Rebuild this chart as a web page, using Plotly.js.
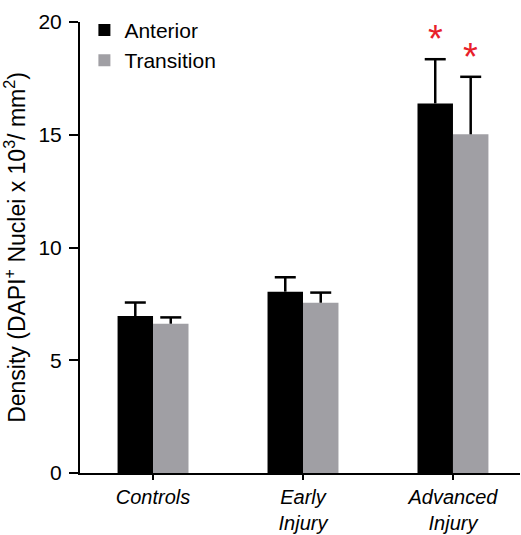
<!DOCTYPE html>
<html>
<head>
<meta charset="utf-8">
<script src="https://cdn.plot.ly/plotly-3.0.1.min.js"></script>
<style>html,body{margin:0;padding:0;background:#fff;}#chart{width:521px;height:535px;}</style>
</head>
<body>
<div id="chart"></div>
<script>
const categories = ['Controls', 'Early<br>Injury', 'Advanced<br>Injury'];
const anterior = [6.96, 8.04, 16.39];
const anteriorErr = [0.6, 0.64, 1.96];
const transition = [6.62, 7.55, 15.02];
const transitionErr = [0.28, 0.45, 2.55];
const anteriorSig = ['', '', '*'];
const transitionSig = ['', '', '*'];
const yTicks = [0, 5, 10, 15, 20];

const FONT = 'Liberation Sans, Arial, sans-serif';
const GAP = 0.527;

function barTrace(name, vals, errs, color) {
  return {type: 'bar', name: name, x: categories, y: vals, offsetgroup: name,
    marker: {color: color},
    error_y: {type: 'data', array: errs, arrayminus: errs.map(() => 0), symmetric: false,
              color: '#000', thickness: 2.5, width: 0}};
}
function capTrace(name, vals, errs) {
  return {type: 'scatter', mode: 'markers', name: name + ' cap', showlegend: false, offsetgroup: name,
    x: categories, y: vals.map((v, i) => v + errs[i]),
    marker: {symbol: 'line-ew', size: 15, color: '#000', line: {color: '#000', width: 2.5}},
    cliponaxis: false};
}

const traces = [
  barTrace('Anterior', anterior, anteriorErr, '#000000'),
  barTrace('Transition', transition, transitionErr, '#a09fa4'),
  capTrace('Anterior', anterior, anteriorErr),
  capTrace('Transition', transition, transitionErr)
];

const annotations = [];
function addSig(sig, vals, errs, shift) {
  sig.forEach((s, i) => {
    if (!s) return;
    annotations.push({x: categories[i], y: vals[i] + errs[i], xref: 'x', yref: 'y', text: s,
      showarrow: false, xshift: shift, yshift: -3, yanchor: 'bottom',
      font: {family: FONT, size: 38, color: '#e8202a'}});
  });
}
addSig(anteriorSig, anterior, anteriorErr, -17.5);
addSig(transitionSig, transition, transitionErr, 17.5);

const layout = {
  width: 521, height: 535,
  margin: {l: 80, r: 1, t: 22, b: 62},
  paper_bgcolor: '#fff', plot_bgcolor: '#fff',
  font: {family: FONT, color: '#000', size: 21},
  barmode: 'group', bargap: GAP, bargroupgap: 0,
  scattermode: 'group', scattergap: GAP,
  showlegend: true,
  legend: {x: 0.01, y: 1.027, xanchor: 'left', yanchor: 'top', bgcolor: 'rgba(0,0,0,0)',
           font: {family: FONT, size: 21}, traceorder: 'normal'},
  xaxis: {range: [-0.487, 2.447], showline: true, linewidth: 2, linecolor: '#000',
          ticks: 'outside', ticklen: 5, tickwidth: 2, tickcolor: '#000', ticklabelstandoff: 0,
          tickfont: {family: FONT, size: 20, style: 'italic'}, showgrid: false, zeroline: false, fixedrange: true},
  yaxis: {range: [0, 20], tickvals: yTicks, showline: true, linewidth: 2, linecolor: '#000',
          ticks: 'outside', ticklen: 9, tickwidth: 2, tickcolor: '#000', ticklabelstandoff: 3,
          tickfont: {family: FONT, size: 21}, showgrid: false, zeroline: false,
          title: {text: 'Density (DAPI<sup>+</sup> Nuclei x 10<sup>3</sup>/ mm<sup>2</sup>)',
                  font: {family: FONT, size: 23}, standoff: 12}},
  annotations: annotations
};

Plotly.newPlot('chart', traces, layout, {displayModeBar: false, staticPlot: true});
</script>
</body>
</html>
